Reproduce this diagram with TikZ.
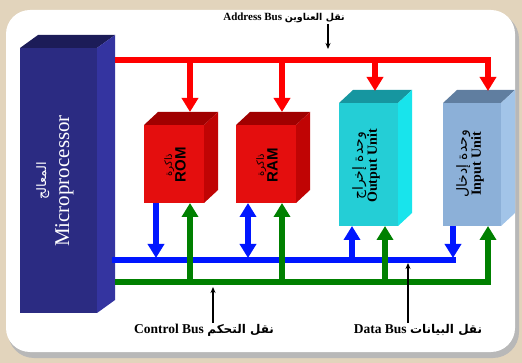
\documentclass[tikz,border=0pt]{standalone}
\usepackage{fontspec}
\setmainfont{Liberation Serif}
\newfontfamily\arabicfont[Script=Arabic]{DejaVu Sans}
\newfontfamily\labelsans{Liberation Sans}
\TeXXeTstate=1
\usetikzlibrary{arrows.meta,calc}
\definecolor{Paper}{RGB}{226,212,188}
\definecolor{MpFront}{RGB}{43,43,130}
\definecolor{MpTop}{RGB}{28,28,88}
\definecolor{MpSide}{RGB}{52,52,160}
\definecolor{MemFront}{RGB}{228,14,14}
\definecolor{MemTop}{RGB}{160,0,0}
\definecolor{MemSide}{RGB}{192,4,4}
\definecolor{OutFront}{RGB}{36,206,214}
\definecolor{OutTop}{RGB}{22,150,160}
\definecolor{OutSide}{RGB}{24,228,236}
\definecolor{InFront}{RGB}{140,176,216}
\definecolor{InTop}{RGB}{96,126,160}
\definecolor{InSide}{RGB}{162,196,232}
\definecolor{BusRed}{RGB}{255,0,0}
\definecolor{BusBlue}{RGB}{0,22,255}
\definecolor{BusGreen}{RGB}{0,128,0}
\tikzset{
  slab/.style={rectangle, draw=none, inner sep=0pt, outer sep=0pt},
  bus/.style={line width=6pt},
  abus/.style={bus, draw=BusRed},
  dbus/.style={bus, draw=BusBlue},
  cbus/.style={bus, draw=BusGreen},
  tip/.style={-{Triangle[width=16pt,length=14pt]}},
  tipboth/.style={{Triangle[width=16pt,length=14pt]}-{Triangle[width=16pt,length=14pt]}},
  pointer/.style={-{Stealth[length=6pt,width=5pt]}, line width=1.3pt, draw=black},
  busname/.style={font=\bfseries\fontsize{13.5}{15}\selectfont, inner sep=1pt},
  unittext/.style={rotate=90, align=center, inner sep=0pt}
}
% top and side faces of a block: node, depth, top colour, side colour
\newcommand{\slabfaces}[4]{%
  \fill[#3] (#1.north west) -- ++(#2) -- ($(#1.north east)+(#2)$) -- (#1.north east) -- cycle;
  \fill[#4] (#1.north east) -- ++(#2) -- ($(#1.south east)+(#2)$) -- (#1.south east) -- cycle;}
\newcommand{\ar}[1]{{\arabicfont\beginR #1\endR}}

\begin{document}
\begin{tikzpicture}[x=1pt,y=-1pt]
  \useasboundingbox (0,0) rectangle (522,363);
  % backdrop and white panel
  \fill[Paper] (0,0) rectangle (522,363);
  \fill[black!28, rounded corners=26pt] (8,13) rectangle (519,358);
  \fill[white, rounded corners=24pt] (6,10) rectangle (515,352);

  % blocks
  \node[slab, fill=MpFront, minimum width=77, minimum height=265] (mp) at (58.5,180.5) {};
  \slabfaces{mp}{18,-13}{MpTop}{MpSide}
  \node[slab, fill=MemFront, minimum width=60, minimum height=78] (rom) at (174,164) {};
  \slabfaces{rom}{14,-13}{MemTop}{MemSide}
  \node[slab, fill=MemFront, minimum width=60, minimum height=78] (ram) at (266,164) {};
  \slabfaces{ram}{14,-13}{MemTop}{MemSide}
  \node[slab, fill=OutFront, minimum width=59, minimum height=123] (out) at (368.5,164.5) {};
  \slabfaces{out}{14,-13}{OutTop}{OutSide}
  \node[slab, fill=InFront, minimum width=58, minimum height=123] (inp) at (472,164.5) {};
  \slabfaces{inp}{14,-13}{InTop}{InSide}

  % block captions
  \node[unittext, text=white] (mptxt) at (55,181)
    {{\fontsize{13}{14}\selectfont\ar{المعالج}}\\[5pt]{\fontsize{21}{22}\selectfont Microprocessor}};
  \node[unittext] (romtxt) at (175,165)
    {{\fontsize{10}{11}\selectfont\ar{ذاكرة}}\\{\labelsans\bfseries\fontsize{15}{16}\selectfont ROM}};
  \node[unittext] (ramtxt) at (267,165)
    {{\fontsize{10}{11}\selectfont\ar{ذاكرة}}\\{\labelsans\bfseries\fontsize{15}{16}\selectfont RAM}};
  \node[unittext] (outtxt) at (366,166)
    {{\fontsize{14}{14}\selectfont\ar{وحدة إخراج}}\\{\bfseries\fontsize{14}{15}\selectfont Output Unit}};
  \node[unittext] (inptxt) at (470,164)
    {{\fontsize{14}{14}\selectfont\ar{وحدة إدخال}}\\{\bfseries\fontsize{14}{15}\selectfont Input Unit}};

  % bus end points and block contacts
  \coordinate (abL) at (115,60);
  \coordinate (dbL) at (115,260);
  \coordinate (dbR) at (453,260);
  \coordinate (cbL) at (115,282);
  \coordinate (rom-a) at (190,112);
  \coordinate (ram-a) at (282,112);
  \coordinate (out-a) at (375,91);
  \coordinate (inp-a) at (488,91);
  \coordinate (rom-d) at (156,203);
  \coordinate (ram-d) at (248,203);
  \coordinate (out-d) at (352,226);
  \coordinate (inp-d) at (453,226);
  \coordinate (rom-c) at (190,203);
  \coordinate (ram-c) at (282,203);
  \coordinate (out-c) at (385,226);
  \coordinate (inp-c) at (488,226);

  % address bus
  \draw[abus, tip] (abL) -| (inp-a);
  \foreach \u in {rom,ram,out}
    \draw[abus, tip] (\u-a |- abL) -- (\u-a);

  % data bus
  \draw[dbus, line cap=rect] (dbL) -- (dbR);
  \draw[dbus, tip, shorten >=2pt] (rom-d) -- (rom-d |- dbL);
  \draw[dbus, tipboth, shorten >=2pt] (ram-d) -- (ram-d |- dbL);
  \draw[dbus, tip] (out-d |- dbL) -- (out-d);
  \draw[dbus, tip, shorten >=2pt] (inp-d) -- (dbR);

  % control bus
  \draw[cbus, tip] (cbL) -| (inp-c);
  \foreach \u in {rom,ram,out}
    \draw[cbus, tip] (\u-c |- cbL) -- (\u-c);

  % bus names
  \node[busname, font=\bfseries\fontsize{11}{13}\selectfont] (abname) at (284,18)
    {Address Bus {\fontsize{9.5}{11}\selectfont\ar{نقل العناوين}}};
  \node[busname] (cbname) at (204,330)
    {Control Bus {\fontsize{12}{13}\selectfont\ar{نقل التحكم}}};
  \node[busname] (dbname) at (418,330)
    {Data Bus {\fontsize{12}{13}\selectfont\ar{نقل البيانات}}};
  \coordinate (abtip) at (328,49);
  \coordinate (cbtip) at (213,287);
  \coordinate (dbtip) at (408,263);
  \draw[pointer] (abname.south -| abtip) -- (abtip);
  \draw[pointer] (cbname.north -| cbtip) -- (cbtip);
  \draw[pointer] (dbname.north -| dbtip) -- (dbtip);
\end{tikzpicture}
\end{document}
